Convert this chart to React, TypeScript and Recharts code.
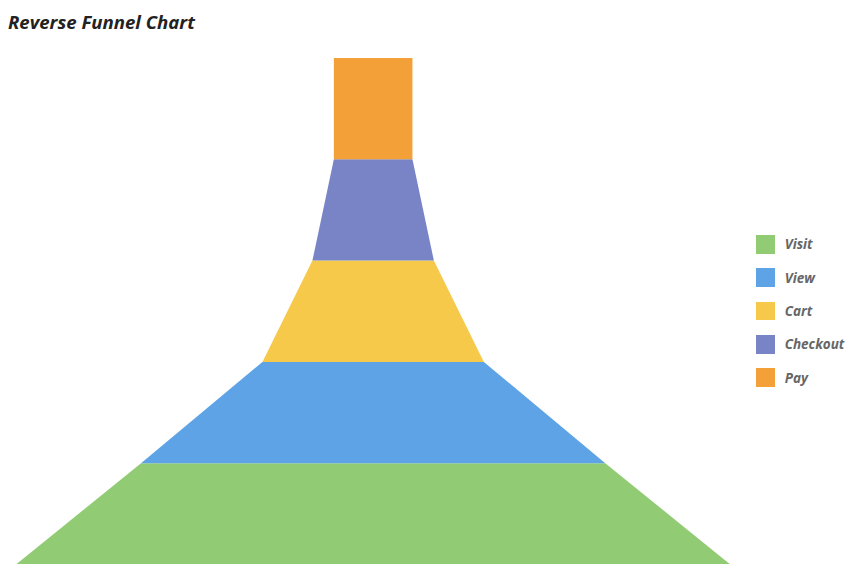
import { FunnelChart, Funnel, Cell } from 'recharts'

const stages = ['Visit', 'View', 'Cart', 'Checkout', 'Pay']
const values = [100, 65, 31, 17, 11]
const colors = ['#91cc75', '#5ea3e6', '#f6c94a', '#7884c5', '#f4a038']

const data = stages.map((name, i) => ({ name, value: values[i] }))

export default function App() {
  return (
    <div style={{ position: 'relative', width: 855, height: 562, fontFamily: '"Open Sans", sans-serif' }}>
      <div
        style={{
          position: 'absolute',
          left: 0,
          top: 0,
          fontSize: 18.6,
          lineHeight: '28px',
          fontWeight: 700,
          fontStyle: 'italic',
          color: '#222',
        }}
      >
        Reverse Funnel Chart
      </div>
      <div style={{ position: 'absolute', left: 8.2, top: 49.5 }}>
        <FunnelChart width={714.3} height={506.5} margin={{ top: 0, right: 0, bottom: 0, left: 0 }}>
          <Funnel
            dataKey="value"
            nameKey="name"
            data={data}
            reversed
            lastShapeType="rectangle"
            stroke="none"
            isAnimationActive={false}
          >
            {data.map((entry, i) => (
              <Cell key={entry.name} fill={colors[i]} stroke="none" />
            ))}
          </Funnel>
        </FunnelChart>
      </div>
      <div style={{ position: 'absolute', left: 748, top: 219.7 }}>
        {stages.map((name, i) => (
          <div key={name} style={{ display: 'flex', alignItems: 'center', height: 33.3 }}>
            <div style={{ width: 18.7, height: 18.7, backgroundColor: colors[i] }} />
            <span
              style={{
                marginLeft: 10,
                fontSize: 13.5,
                fontWeight: 700,
                fontStyle: 'italic',
                color: '#666',
              }}
            >
              {name}
            </span>
          </div>
        ))}
      </div>
    </div>
  )
}
